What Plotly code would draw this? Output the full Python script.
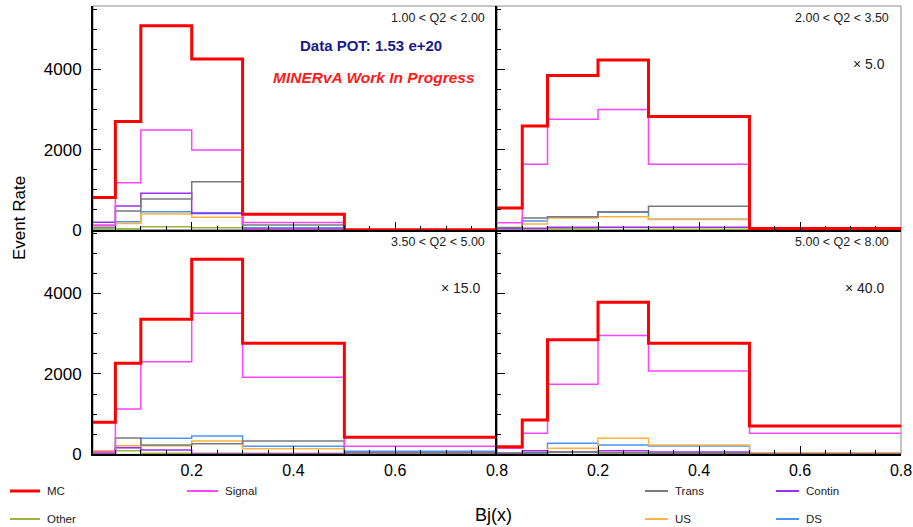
import plotly.graph_objects as go

W, H = 913, 527

# ---------------- data ----------------
bin_edges = [0.0, 0.05, 0.1, 0.2, 0.3, 0.5, 0.8]

panel_labels = ["1.00 < Q2 < 2.00", "2.00 < Q2 < 3.50", "3.50 < Q2 < 5.00", "5.00 < Q2 < 8.00"]
panel_scales = ["", "\u00d7 5.0", "\u00d7 15.0", "\u00d7 40.0"]

series_names = ["Other", "DS", "US", "Contin", "Trans", "Signal", "MC"]

# values as displayed (already multiplied by the panel scale factor)
p1_mc     = [810, 2700, 5090, 4260, 390, 5]
p1_signal = [120, 1180, 2490, 1990, 185, 2]
p1_trans  = [120, 475, 770, 1200, 125, 1]
p1_contin = [195, 600, 913, 410, 25, 0]
p1_us     = [95, 160, 398, 315, 30, 0]
p1_ds     = [60, 207, 457, 432, 58, 0]
p1_other  = [30, 30, 83, 57, 10, 0]

p2_mc     = [550, 2590, 3850, 4234, 2830, 40]
p2_signal = [183, 1640, 2760, 3000, 1640, 5]
p2_trans  = [60, 300, 332, 457, 590, 0]
p2_contin = [40, 45, 66, 66, 66, 0]
p2_us     = [50, 150, 300, 332, 260, 0]
p2_ds     = [40, 224, 315, 440, 266, 0]
p2_other  = [30, 30, 40, 60, 20, 0]

p3_mc     = [800, 2265, 3360, 4855, 2765, 423]
p3_signal = [60, 1130, 2305, 3510, 1915, 199]
p3_trans  = [30, 405, 230, 265, 331, 40]
p3_contin = [20, 165, 107, 5, 10, 0]
p3_us     = [90, 214, 214, 331, 140, 20]
p3_ds     = [65, 170, 398, 457, 199, 75]
p3_other  = [25, 90, 25, 25, 25, 25]

p4_mc     = [190, 854, 2847, 3785, 2765, 705]
p4_signal = [150, 523, 1743, 2954, 2075, 523]
p4_trans  = [30, 40, 50, 40, 25, 10]
p4_contin = [20, 90, 60, 90, 57, 0]
p4_us     = [20, 50, 149, 398, 232, 30]
p4_ds     = [10, 25, 274, 232, 207, 30]
p4_other  = [30, 40, 50, 35, 25, 20]

panels = [
    dict(Other=p1_other, DS=p1_ds, US=p1_us, Contin=p1_contin, Trans=p1_trans, Signal=p1_signal, MC=p1_mc),
    dict(Other=p2_other, DS=p2_ds, US=p2_us, Contin=p2_contin, Trans=p2_trans, Signal=p2_signal, MC=p2_mc),
    dict(Other=p3_other, DS=p3_ds, US=p3_us, Contin=p3_contin, Trans=p3_trans, Signal=p3_signal, MC=p3_mc),
    dict(Other=p4_other, DS=p4_ds, US=p4_us, Contin=p4_contin, Trans=p4_trans, Signal=p4_signal, MC=p4_mc),
]

y_ticks = [0, 2000, 4000]
x_ticks = [0.2, 0.4, 0.6, 0.8]

# ---------------- styles ----------------
colors = {
    "MC": "#ff0000",
    "Signal": "#ff44ff",
    "Trans": "#7a7a7a",
    "Contin": "#9b30f0",
    "Other": "#9db43c",
    "US": "#ffb23e",
    "DS": "#4b94f5",
}
widths = {"MC": 3, "Signal": 1.5, "Trans": 1.5, "Contin": 1.5, "Other": 1.5, "US": 1.5, "DS": 1.5}

FONT = "Liberation Sans, Arial, Helvetica, sans-serif"

# panel geometry in pixels
xl0, xmid, xr1 = 93, 497, 901
yt0, ymid, yb1 = 6, 230, 454.3


def px_x(p):
    return p / W


def px_y(p):
    return 1 - p / H


domains = [
    ([px_x(xl0), px_x(xmid)], [px_y(ymid), px_y(yt0)]),
    ([px_x(xmid), px_x(xr1)], [px_y(ymid), px_y(yt0)]),
    ([px_x(xl0), px_x(xmid)], [px_y(yb1), px_y(ymid)]),
    ([px_x(xmid), px_x(xr1)], [px_y(yb1), px_y(ymid)]),
]
x_ranges = [[0.006, 0.8], [0.0, 0.8], [0.006, 0.8], [0.0, 0.8]]
Y_MAX = 5580

fig = go.Figure()
layout = {}
shapes = []
annotations = []

minor_x = [round(0.05 * i, 2) for i in range(0, 17)]
minor_y = list(range(0, 5501, 500))

for i, data in enumerate(panels):
    k = "" if i == 0 else str(i + 1)
    xa, ya = "x" + k, "y" + k
    for name in series_names:
        vals = data[name]
        fig.add_trace(go.Scatter(
            x=bin_edges, y=vals + [vals[-1]], mode="lines", line_shape="hv",
            line=dict(color=colors[name], width=widths[name]),
            xaxis=xa, yaxis=ya, showlegend=False, hoverinfo="skip"))
    xd, yd = domains[i]
    bottom = i >= 2
    left = i % 2 == 0
    layout["xaxis" + k] = dict(
        domain=xd, range=x_ranges[i], anchor=ya, tickvals=x_ticks, automargin=False,
        ticktext=[f"{v:.1f}" for v in x_ticks], showticklabels=bottom,
        ticks="inside", ticklen=8, tickwidth=1, tickcolor="black",
        minor=dict(tickvals=minor_x, ticks="inside", ticklen=4, tickcolor="black", tickwidth=1),
        showline=True, linecolor="black", linewidth=2, showgrid=False, zeroline=False,
        tickfont=dict(family=FONT, size=16, color="black"))
    layout["yaxis" + k] = dict(
        domain=yd, range=[0, Y_MAX], anchor=xa, tickvals=y_ticks, automargin=False,
        showticklabels=left, ticks="inside", ticklen=8, tickwidth=1, tickcolor="black",
        minor=dict(tickvals=minor_y, ticks="inside", ticklen=4, tickcolor="black", tickwidth=1),
        showline=True, linecolor="black", linewidth=2, showgrid=False, zeroline=False,
        ticklabelstandoff=6,
        tickfont=dict(family=FONT, size=17, color="black"))
    # frame
    shapes.append(dict(type="rect", xref=xa + " domain", yref=ya + " domain",
                       x0=0, x1=1, y0=0, y1=1, line=dict(color="#888888", width=1), layer="below"))
    annotations.append(dict(text=panel_labels[i], xref=xa + " domain", yref=ya + " domain",
                            x=0.975, y=0.985, xanchor="right", yanchor="top", showarrow=False,
                            font=dict(family=FONT, size=12.5, color="#222222")))
    if panel_scales[i]:
        annotations.append(dict(text=panel_scales[i], xref=xa + " domain", yref=ya + " domain",
                                x=0.965, y=0.74, xanchor="right", yanchor="middle", showarrow=False,
                                font=dict(family=FONT, size=14, color="#222222")))

annotations.append(dict(text="<b>Data POT: 1.53 e+20</b>", xref="paper", yref="paper",
                        x=px_x(371), y=px_y(45), xanchor="center", yanchor="middle", showarrow=False,
                        font=dict(family=FONT, size=15, color="#1a1a8a")))
annotations.append(dict(text="<b><i>MINERvA Work In Progress</i></b>", xref="paper", yref="paper",
                        x=px_x(374), y=px_y(78), xanchor="center", yanchor="middle", showarrow=False,
                        font=dict(family=FONT, size=15.5, color="#ff1a1a")))

# axis titles
annotations.append(dict(text="Event Rate", xref="paper", yref="paper", x=px_x(20), y=px_y(218),
                        xanchor="center", yanchor="middle", textangle=-90, showarrow=False,
                        font=dict(family=FONT, size=17, color="black")))
annotations.append(dict(text="Bj(x)", xref="paper", yref="paper", x=px_x(493), y=px_y(515),
                        xanchor="center", yanchor="middle", showarrow=False,
                        font=dict(family=FONT, size=18, color="black")))

# legend (manual placement like the original)
legend_items = [
    ("MC", 10, 40, 491), ("Signal", 187, 218, 491), ("Trans", 645, 668, 491), ("Contin", 776, 799, 491),
    ("Other", 10, 40, 519), ("US", 645, 668, 519), ("DS", 776, 799, 519),
]
for name, lx0, lx1, ly in legend_items:
    shapes.append(dict(type="line", xref="paper", yref="paper", x0=px_x(lx0), x1=px_x(lx1),
                       y0=px_y(ly), y1=px_y(ly),
                       line=dict(color=colors[name], width=3 if name == "MC" else 2)))
    annotations.append(dict(text=name, xref="paper", yref="paper", x=px_x(lx1 + 5), y=px_y(ly),
                            xanchor="left", yanchor="middle", showarrow=False,
                            font=dict(family=FONT, size=11.5, color="#222222")))

fig.update_layout(
    width=W, height=H, margin=dict(l=0, r=0, t=0, b=0, autoexpand=False),
    paper_bgcolor="white", plot_bgcolor="white",
    shapes=shapes, annotations=annotations, showlegend=False, **layout)

pin_js = (
    "document.documentElement.style.margin='0';document.documentElement.style.overflow='hidden';"
    "document.body.style.margin='0';document.body.style.overflow='hidden';"
    "var gd=document.getElementsByClassName('plotly-graph-div')[0];"
    "gd.style.position='fixed';gd.style.left='0px';gd.style.top='0px';"
)
fig.write_html("out.html", config={"displayModeBar": False}, post_script=pin_js)
